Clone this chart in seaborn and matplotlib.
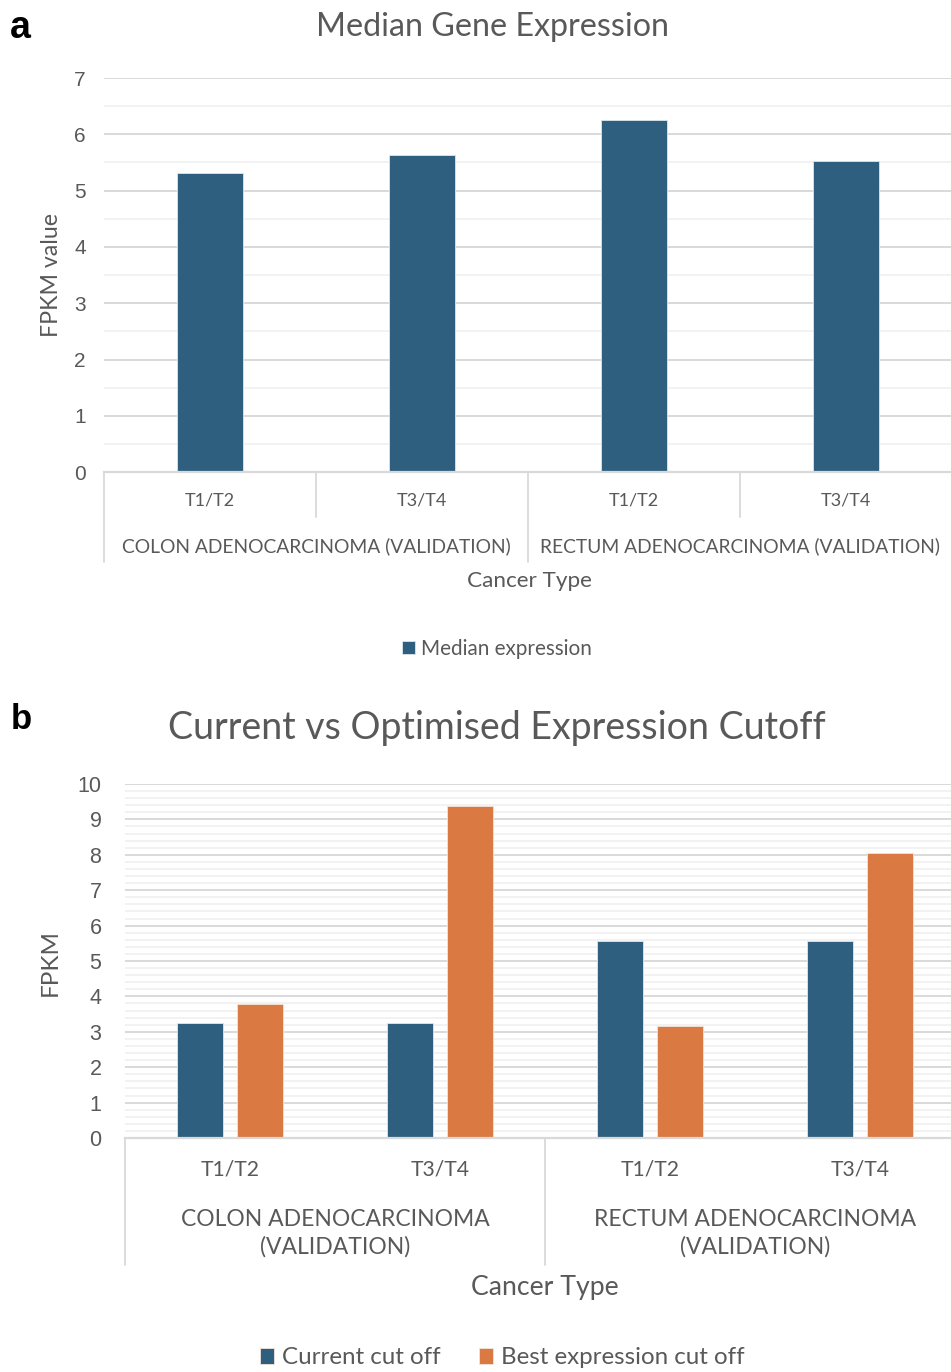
import numpy as np
import pandas as pd
import matplotlib
matplotlib.use("Agg")
import matplotlib.pyplot as plt
import seaborn as sns
from matplotlib.transforms import blended_transform_factory

# ---- data -------------------------------------------------------------
stages = ["T1/T2", "T3/T4", "T1/T2", "T3/T4"]
cancer_groups_a = ["COLON ADENOCARCINOMA (VALIDATION)", "RECTUM ADENOCARCINOMA (VALIDATION)"]
cancer_groups_b = ["COLON ADENOCARCINOMA\n(VALIDATION)", "RECTUM ADENOCARCINOMA\n(VALIDATION)"]
group_of_stage = [0, 0, 1, 1]

median_expression = [5.32, 5.63, 6.26, 5.53]
current_cutoff = [3.24, 3.24, 5.57, 5.57]
best_cutoff = [3.78, 9.39, 3.15, 8.05]

series_a = ["Median expression"]
series_b = ["Current cut off", "Best expression cut off"]

# ---- style ------------------------------------------------------------
BLUE = "#2e5f7f"
ORANGE = "#db7943"
TEXT = "#595959"
GRID = "#d9d9d9"
GRID_MINOR = "#f1f1f1"

sns.set_theme(style="white")
plt.rcParams["font.family"] = ["Lato", "DejaVu Sans"]
plt.rcParams["text.color"] = TEXT

W, H = 951, 1372
fig = plt.figure(figsize=(W / 100, H / 100), dpi=100)


def fy(py):
    """figure fraction from a pixel row"""
    return 1 - py / H


def fx(px):
    return px / W


cat_keys = [f"{cancer_groups_a[g]}|{s}|{i}" for i, (g, s) in enumerate(zip(group_of_stage, stages))]

df_a = pd.DataFrame({"cat": cat_keys, "value": median_expression, "series": series_a[0]})
df_b = pd.concat([
    pd.DataFrame({"cat": cat_keys, "value": current_cutoff, "series": series_b[0]}),
    pd.DataFrame({"cat": cat_keys, "value": best_cutoff, "series": series_b[1]}),
])


def style_axes(ax, ymax, minor_step, ytick_size, ytick_pad):
    ax.set_ylim(0, ymax)
    ax.set_yticks(np.arange(0, ymax + 0.01, 1))
    ax.set_yticks(np.arange(0, ymax + 0.01, minor_step), minor=True)
    ax.set_axisbelow(True)
    ax.yaxis.grid(True, which="minor", color=GRID_MINOR, lw=1.3)
    ax.yaxis.grid(True, which="major", color=GRID, lw=1.4)
    for side in ["top", "right", "left"]:
        ax.spines[side].set_visible(False)
    ax.spines["bottom"].set_color(GRID)
    ax.spines["bottom"].set_linewidth(1.6)
    ax.tick_params(axis="both", which="both", length=0)
    ax.tick_params(axis="y", labelsize=ytick_size, pad=ytick_pad, labelcolor=TEXT)
    for lab in ax.get_yticklabels():
        lab.set_fontfamily(["Liberation Sans", "DejaVu Sans"])
    ax.set_xticks([])
    ax.set_xlabel("")
    ax.set_ylabel("")


# ---- panel a ----------------------------------------------------------
ax_a = fig.add_axes([fx(104), fy(472.3), fx(952 - 104), (472.3 - 78) / H])
sns.barplot(data=df_a, x="cat", y="value", hue="series", palette=[BLUE],
            width=0.31, dodge=False, saturation=1, errorbar=None,
            edgecolor="#dce6ee", linewidth=0.6, ax=ax_a)
style_axes(ax_a, 7, 0.5, 15, 13)
handles_a, labels_a = ax_a.get_legend_handles_labels()
ax_a.get_legend().remove()

tr_a = blended_transform_factory(ax_a.transData, fig.transFigure)
# category separators below the axis
for xb in [-0.5, 1.5, 3.5]:
    ax_a.plot([xb, xb], [fy(472.3), fy(562)], transform=tr_a, color=GRID, lw=1.3, clip_on=False)
for xb in [0.5, 2.5]:
    ax_a.plot([xb, xb], [fy(472.3), fy(517)], transform=tr_a, color=GRID, lw=1.3, clip_on=False)
ax_a.set_xlim(-0.5, 3.5)
for i, s in enumerate(stages):
    ax_a.text(i, fy(501), s, transform=tr_a, ha="center", va="center", fontsize=13, color=TEXT)
for g, name in enumerate(cancer_groups_a):
    ax_a.text(2 * g + 0.5, fy(546), name, transform=tr_a, ha="center", va="center",
              fontsize=13.9, color=TEXT)

fig.text(fx(529), fy(581), "Cancer Type", ha="center", va="center", fontsize=16.2, color=TEXT)
fig.text(fx(52), fy(275), "FPKM value", ha="center", va="center", rotation=90, fontsize=16.7, color=TEXT)
fig.text(fx(493), fy(27), "Median Gene Expression", ha="center", va="center", fontsize=23.2, color=TEXT)
fig.text(fx(10), fy(38), "a", ha="left", va="baseline", fontsize=27, fontweight="bold",
         color="black", family=["Liberation Sans", "DejaVu Sans"])
fig.legend(handles_a, labels_a, loc="center", bbox_to_anchor=(fx(497), fy(649)), frameon=False,
           fontsize=14.9, handlelength=0.6, handleheight=0.6, handletextpad=0.3, labelcolor=TEXT)

# ---- panel b ----------------------------------------------------------
ax_b = fig.add_axes([fx(125), fy(1138), fx(840), (1138 - 784) / H])
sns.barplot(data=df_b, x="cat", y="value", hue="series", palette=[BLUE, ORANGE],
            width=0.568, gap=0.22, saturation=1, errorbar=None,
            edgecolor="#f3e3da", linewidth=0.6, ax=ax_b)
style_axes(ax_b, 10, 0.2, 15.5, 17)
handles_b, labels_b = ax_b.get_legend_handles_labels()
ax_b.get_legend().remove()

tr_b = blended_transform_factory(ax_b.transData, fig.transFigure)
for xb in [-0.5, 1.5]:
    ax_b.plot([xb, xb], [fy(1138), fy(1265)], transform=tr_b, color=GRID, lw=1.3, clip_on=False)
ax_b.set_xlim(-0.5, 3.5)
for i, s in enumerate(stages):
    ax_b.text(i, fy(1169), s, transform=tr_b, ha="center", va="center", fontsize=15.2, color=TEXT)
for g, name in enumerate(cancer_groups_b):
    ax_b.text(2 * g + 0.5, fy(1233), name, transform=tr_b, ha="center", va="center",
              fontsize=16.5, color=TEXT, linespacing=1.35)

fig.text(fx(545), fy(1287), "Cancer Type", ha="center", va="center", fontsize=19.2, color=TEXT)
fig.text(fx(50), fy(962), "FPKM", ha="center", va="center", rotation=90, fontsize=17.5, color=TEXT)
fig.text(fx(497), fy(728), "Current vs Optimised Expression Cutoff", ha="center", va="center",
         fontsize=27, color=TEXT)
fig.text(fx(11), fy(729), "b", ha="left", va="baseline", fontsize=25, fontweight="bold",
         color="black", family=["Liberation Sans", "DejaVu Sans"])
fig.legend(handles_b, labels_b, loc="center", bbox_to_anchor=(fx(502), fy(1358)), frameon=False,
           ncol=2, fontsize=17.4, handlelength=0.6, handleheight=0.6, handletextpad=0.3,
           columnspacing=1.6, labelcolor=TEXT)

fig.savefig("out.png", dpi=100)
